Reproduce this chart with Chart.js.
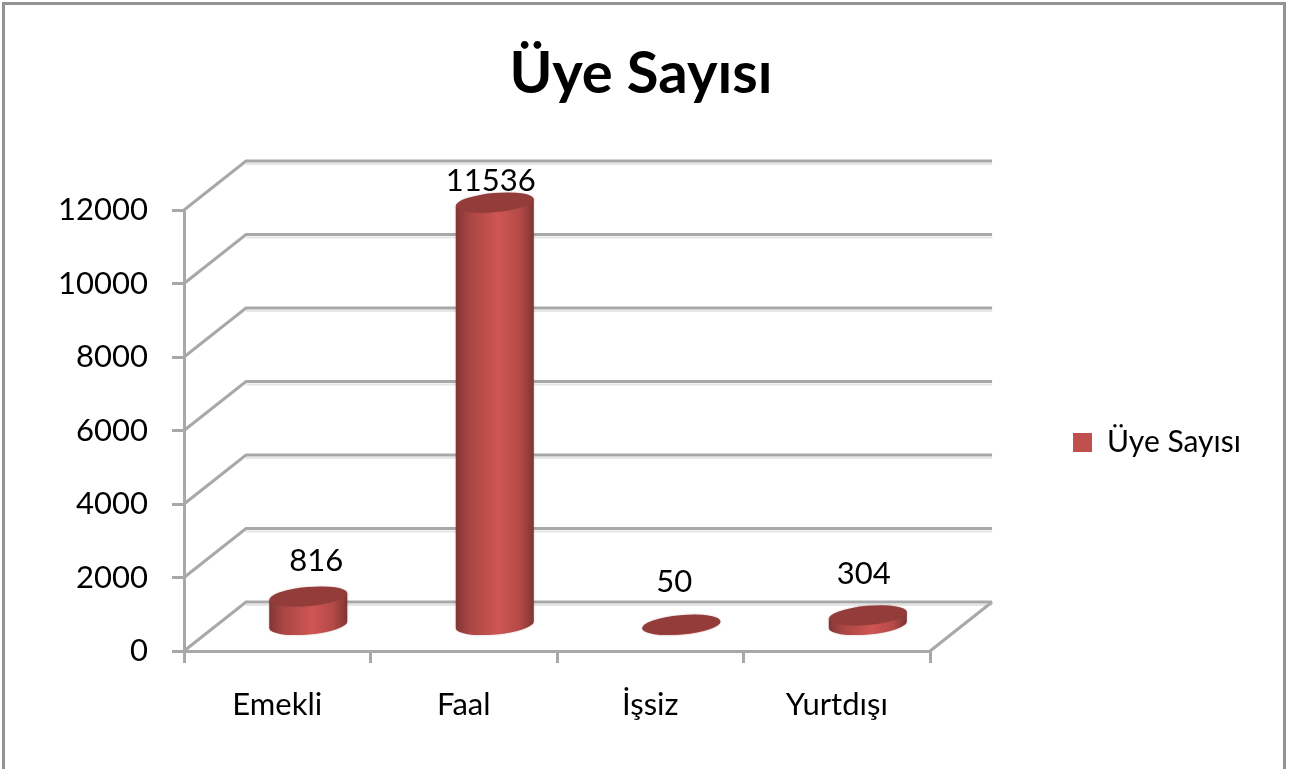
<!DOCTYPE html>
<html lang="tr">
<head>
<meta charset="utf-8">
<title>Üye Sayısı</title>
<script src="https://cdn.jsdelivr.net/npm/chart.js@4"></script>
<style>
    html, body { margin: 0; padding: 0; background: #fff; overflow: hidden; }
    #frame { position: absolute; left: 2px; top: 2px; width: 1278px; height: 767px; border: 3px solid #939393; border-bottom: 0; }
    #chart { position: absolute; left: 0; top: 0; }
</style>
</head>
<body>
<div id="frame"></div>
<canvas id="chart" width="1290" height="769"></canvas>
<script>
const seriesName = "Üye Sayısı";
const categories = ["Emekli", "Faal", "İşsiz", "Yurtdışı"];
const uyeSayisi = [816, 11536, 50, 304];
const yTicks = [0, 2000, 4000, 6000, 8000, 10000, 12000];

const FONT = "Lato, sans-serif";
const GRID = "#a8a8a8";
const DEPTH_X = 62, DEPTH_Y = 49;
// labels in the picture do not sit quite centred over their cylinders
const LABEL_SHIFT = [8, -4, -7, -4];
const LABEL_LIFT = [36, 22, 43, 41];

// back wall, floor and side lines of the fake 3d box
const drawWalls = function (chart) {
    const ctx = chart.ctx, a = chart.chartArea, y = chart.scales.y;
    ctx.save();
    y.ticks.forEach(function (t) {
        const py = y.getPixelForValue(t.value);
        ctx.strokeStyle = "#e6e6e6";
        ctx.lineWidth = 2;
        ctx.beginPath();
        ctx.moveTo(a.left + DEPTH_X, py - DEPTH_Y + 3);
        ctx.lineTo(a.right + DEPTH_X, py - DEPTH_Y + 3);
        ctx.stroke();
        ctx.strokeStyle = GRID;
        ctx.lineWidth = 3;
        ctx.beginPath();
        ctx.moveTo(a.left, py);
        ctx.lineTo(a.left + DEPTH_X, py - DEPTH_Y);
        ctx.lineTo(a.right + DEPTH_X, py - DEPTH_Y);
        ctx.stroke();
    });
    ctx.beginPath();
    ctx.moveTo(a.right, a.bottom);
    ctx.lineTo(a.right + DEPTH_X, a.bottom - DEPTH_Y);
    ctx.stroke();
    ctx.restore();
};

const drawCylinder = function (ctx, cx, topY, baseY, width) {
    const rx = width / 2, ry = 9.5, tilt = -0.09;
    const ex = rx * Math.cos(tilt), ey = rx * Math.sin(tilt);
    const g = ctx.createLinearGradient(cx - rx, 0, cx + rx, 0);
    g.addColorStop(0, "#823634");
    g.addColorStop(0.18, "#a94643");
    g.addColorStop(0.55, "#cf5653");
    g.addColorStop(0.82, "#b44a47");
    g.addColorStop(1, "#7e3533");

    ctx.save();
    ctx.shadowColor = "rgba(120,60,60,0.35)";
    ctx.shadowBlur = 2;
    ctx.fillStyle = g;
    ctx.beginPath();
    ctx.moveTo(cx - ex, topY - ey);
    ctx.lineTo(cx - ex, baseY - ey);
    ctx.ellipse(cx, baseY, rx, ry, tilt, Math.PI, 0, true);
    ctx.lineTo(cx + ex, topY + ey);
    ctx.closePath();
    ctx.fill();
    ctx.fillStyle = "#933c3a";
    ctx.beginPath();
    ctx.ellipse(cx, topY, rx, ry, tilt, 0, Math.PI * 2);
    ctx.fill();
    ctx.restore();
};

const box3d = {
    id: "box3d",
    afterLayout: function (chart) {
        chart.legend.left = 1059;
        chart.legend.right = 1270;
        chart.legend.top += 58;
        chart.legend.bottom += 58;
        chart.titleBlock.left = 0;
        chart.titleBlock.right = 1282;
    },
    beforeDatasetsDraw: function (chart) {
        drawWalls(chart);
    },
    // cylinders replace the flat bars, the legend keeps the dataset colour
    beforeDatasetDraw: function (chart, args) {
        const ctx = chart.ctx;
        chart.getDatasetMeta(args.index).data.forEach(function (bar) {
            drawCylinder(ctx, bar.x + DEPTH_X / 2, bar.y - DEPTH_Y / 2, bar.base - DEPTH_Y / 2, bar.width);
        });
        return false;
    },
    afterDatasetsDraw: function (chart) {
        const ctx = chart.ctx;
        ctx.save();
        ctx.font = "31px " + FONT;
        ctx.fillStyle = "#000";
        ctx.textAlign = "center";
        ctx.textBaseline = "middle";
        chart.getDatasetMeta(0).data.forEach(function (bar, i) {
            const tx = bar.x + DEPTH_X / 2 + LABEL_SHIFT[i];
            const ty = bar.y - DEPTH_Y / 2 - LABEL_LIFT[i];
            ctx.fillText(String(uyeSayisi[i]), tx, ty);
        });
        ctx.restore();
    }
};

new Chart(document.getElementById("chart"), {
    type: "bar",
    data: {
        labels: categories,
        datasets: [{
            label: seriesName,
            data: uyeSayisi,
            backgroundColor: "#c0504d",
            barPercentage: 0.42,
            categoryPercentage: 1
        }]
    },
    options: {
        responsive: false,
        animation: false,
        layout: {
            autoPadding: false,
            padding: { left: 4, right: 168, top: 0, bottom: 0 }
        },
        plugins: {
            tooltip: { enabled: false },
            title: {
                display: true,
                text: seriesName,
                color: "#000",
                font: { family: FONT, size: 58, weight: "bold", lineHeight: 1.2 },
                padding: { top: 39, bottom: 101.4 }
            },
            legend: {
                position: "right",
                labels: {
                    color: "#000",
                    font: { family: FONT, size: 30 },
                    boxWidth: 19,
                    boxHeight: 19,
                    padding: 14
                }
            }
        },
        scales: {
            x: {
                afterFit: function (scale) { scale.height = 118; },
                grid: { drawOnChartArea: false, color: GRID, lineWidth: 3, tickLength: 12 },
                border: { color: GRID, width: 3 },
                ticks: { color: "#000", padding: 23, font: { family: FONT, size: 31 }, maxRotation: 0 }
            },
            y: {
                min: 0,
                max: 12000,
                afterFit: function (scale) { scale.width = 180; },
                afterBuildTicks: function (scale) {
                    scale.ticks = yTicks.map(function (v) { return { value: v }; });
                },
                grid: { drawOnChartArea: false, color: GRID, lineWidth: 3, tickLength: 12 },
                border: { color: GRID, width: 3 },
                ticks: {
                    color: "#000",
                    padding: 24,
                    font: { family: FONT, size: 31 },
                    callback: function (v) { return String(v); }
                }
            }
        }
    },
    plugins: [box3d]
});
</script>
</body>
</html>
